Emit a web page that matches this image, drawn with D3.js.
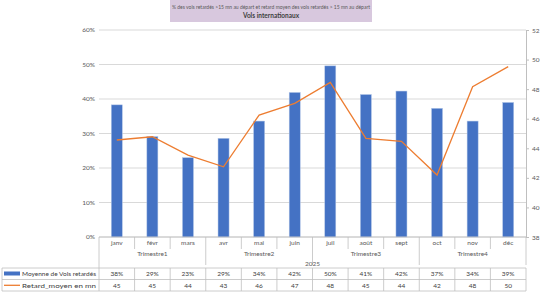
<!DOCTYPE html>
<html>
<head>
<meta charset="utf-8">
<script src="https://cdn.jsdelivr.net/npm/d3@7"></script>
<style>
  body { margin: 0; background: #fff; }
  text { font-family: Lato, 'Open Sans', sans-serif; }
</style>
</head>
<body>
<div id="chart"></div>
<script>
const months = ['janv', 'févr', 'mars', 'avr', 'mai', 'juin', 'juil', 'août', 'sept', 'oct', 'nov', 'déc'];
const quarters = ['Trimestre1', 'Trimestre2', 'Trimestre3', 'Trimestre4'];
const year = '2025';
const pctDelayed = [38.3, 29.1, 23.0, 28.6, 33.6, 41.9, 49.6, 41.3, 42.3, 37.3, 33.6, 39.0];
const avgDelay = [44.56, 44.78, 43.54, 42.75, 46.25, 47.04, 48.46, 44.67, 44.47, 42.19, 48.16, 49.52];
const seriesNames = ['Moyenne de Vols retardés', 'Retard_moyen en mn'];
const titleLines = ['% des vols retardés >15 mn au départ et retard moyen des vols retardés > 15 mn au départ', 'Vols internationaux'];

const W = 543, H = 293;
const plot = { left: 99, right: 526, top: 30, bottom: 237 };
const BLUE = '#4472C4', ORANGE = '#ED7D31', GRID = '#d9d9d9', TXT = '#595959';

const svg = d3.select('#chart').append('svg').attr('width', W).attr('height', H);

// title box
svg.append('rect').attr('x', 170).attr('y', 0).attr('width', 202).attr('height', 22).attr('fill', '#d8c8de');
svg.append('text').attr('x', 271).attr('y', 9).attr('text-anchor', 'middle')
  .attr('font-size', 6.3).attr('fill', TXT)
  .attr('textLength', 198).attr('lengthAdjust', 'spacingAndGlyphs').text(titleLines[0]);
svg.append('text').attr('x', 271).attr('y', 18).attr('text-anchor', 'middle')
  .attr('font-size', 6.5).attr('font-weight', 'bold').attr('fill', '#404040').text(titleLines[1]);

const x = d3.scaleBand().domain(months).range([plot.left, plot.right]);
const y = d3.scaleLinear().domain([0, 60]).range([plot.bottom, plot.top]);
const y2 = d3.scaleLinear().domain([38, 52]).range([plot.bottom, plot.top]);

// grid
svg.append('g').selectAll('line').data(y.ticks(6)).join('line')
  .attr('x1', plot.left).attr('x2', plot.right)
  .attr('y1', (d) => y(d)).attr('y2', (d) => y(d))
  .attr('stroke', GRID).attr('stroke-width', 1);

// left axis labels
svg.append('g').selectAll('text').data(y.ticks(6)).join('text')
  .attr('x', 95).attr('y', (d) => y(d) + 2.3).attr('text-anchor', 'end')
  .attr('font-size', 6.5).attr('fill', TXT).text((d) => `${d}%`);

// right axis
const rAxis = svg.append('g').attr('transform', `translate(${plot.right},0)`)
  .call(d3.axisRight(y2).tickValues(d3.range(38, 53, 2)).tickSize(3).tickPadding(3));
rAxis.select('.domain').attr('stroke', '#bfbfbf');
rAxis.selectAll('.tick line').attr('stroke', '#bfbfbf');
rAxis.selectAll('.tick text').attr('font-size', 6.5).attr('fill', TXT).attr('font-family', 'Lato, sans-serif');

// bars
const bw = x.bandwidth() * 0.31;
svg.append('g').selectAll('rect').data(pctDelayed).join('rect')
  .attr('x', (d, i) => x(months[i]) + (x.bandwidth() - bw) / 2)
  .attr('y', (d) => y(d))
  .attr('width', bw)
  .attr('height', (d) => plot.bottom - y(d))
  .attr('fill', BLUE).attr('stroke', '#b4c7e7').attr('stroke-width', 0.5);

// line
const line = d3.line().x((d, i) => x(months[i]) + x.bandwidth() / 2).y((d) => y2(d));
svg.append('path').datum(avgDelay).attr('d', line)
  .attr('fill', 'none').attr('stroke', ORANGE).attr('stroke-width', 1.3);

// category axis / table
const tbl = svg.append('g').attr('stroke', '#bfbfbf').attr('stroke-width', 0.8);
tbl.append('line').attr('x1', plot.left).attr('x2', plot.right).attr('y1', plot.bottom).attr('y2', plot.bottom);
months.forEach((m, i) => {
  const xi = x(m);
  const isQ = i % 3 === 0;
  tbl.append('line').attr('x1', xi).attr('x2', xi).attr('y1', plot.bottom)
    .attr('y2', i === 0 ? 268 : isQ ? 265 : 249);
});
tbl.append('line').attr('x1', plot.right).attr('x2', plot.right).attr('y1', plot.bottom).attr('y2', 265);

const lab = svg.append('g').attr('font-size', 6.5).attr('fill', TXT).attr('text-anchor', 'middle');
months.forEach((m) => {
  lab.append('text').attr('x', x(m) + x.bandwidth() / 2).attr('y', 245).text(m);
});
quarters.forEach((q, i) => {
  const x0 = x(months[i * 3]);
  lab.append('text').attr('x', x0 + x.bandwidth() * 1.5).attr('y', 256).text(q);
});
lab.append('text').attr('x', (plot.left + plot.right) / 2).attr('y', 265.5).text(year);

// data table rows
const rows = [
  { vals: pctDelayed.map((v) => `${Math.round(v)}%`) },
  { vals: avgDelay.map((v) => `${Math.round(v)}`) },
];
const rowY = [268, 279.5, 291];
const dt = svg.append('g').attr('stroke', '#bfbfbf').attr('stroke-width', 0.8);
rowY.forEach((ry) => dt.append('line').attr('x1', 2).attr('x2', plot.right).attr('y1', ry).attr('y2', ry));
[2, plot.left, ...months.slice(1).map((m) => x(m)), plot.right].forEach((xx) => {
  dt.append('line').attr('x1', xx).attr('x2', xx).attr('y1', rowY[0]).attr('y2', rowY[2]);
});
rows.forEach((r, ri) => {
  const cy = (rowY[ri] + rowY[ri + 1]) / 2 + 2.3;
  r.vals.forEach((v, i) => {
    svg.append('text').attr('x', x(months[i]) + x.bandwidth() / 2).attr('y', cy)
      .attr('text-anchor', 'middle').attr('font-size', 6.5).attr('fill', '#404040').text(v);
  });
  svg.append('text').attr('x', 22).attr('y', cy).attr('font-size', 6.5).attr('fill', '#404040')
    .attr('textLength', 74).attr('lengthAdjust', 'spacingAndGlyphs').text(seriesNames[ri]);
});
// legend keys
svg.append('rect').attr('x', 4).attr('y', 271.5).attr('width', 16).attr('height', 4).attr('fill', BLUE);
svg.append('line').attr('x1', 4).attr('x2', 20).attr('y1', 285.3).attr('y2', 285.3)
  .attr('stroke', ORANGE).attr('stroke-width', 1.3);
</script>
</body>
</html>
